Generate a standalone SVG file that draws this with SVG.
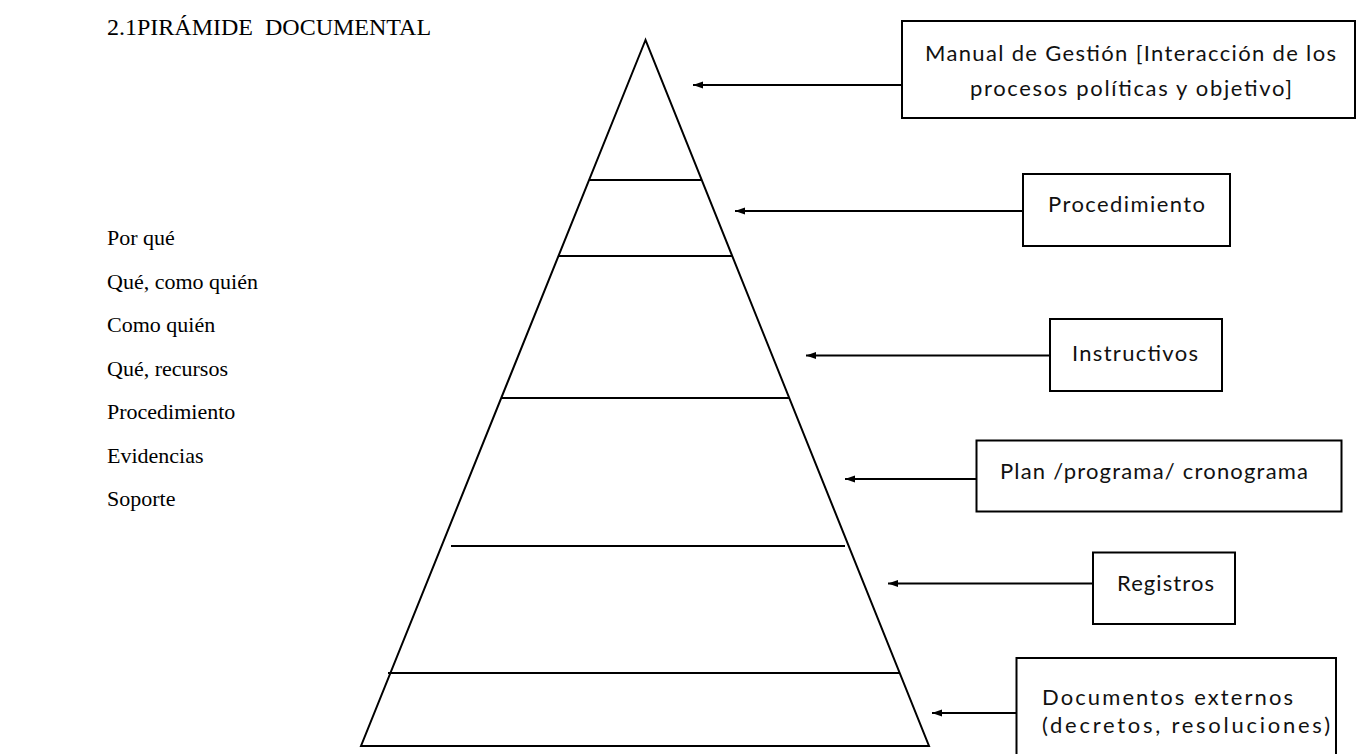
<svg xmlns="http://www.w3.org/2000/svg" width="1361" height="754" viewBox="0 0 1361 754">
<style>
.serif{font-family:"Liberation Serif","Times New Roman",serif;font-size:22px;fill:#000}
.title{font-size:24px}
.box{fill:#fff;stroke:#000;stroke-width:2}
.bt{font-family:Lato,"Open Sans","Liberation Sans",sans-serif;font-size:22px;fill:#111}
.tier{stroke:#000;stroke-width:2;fill:none}
.conn line{stroke:#000;stroke-width:2;marker-end:url(#ah)}
</style>
<defs>
<marker id="ah" markerUnits="userSpaceOnUse" markerWidth="11" markerHeight="8" refX="10" refY="4" orient="auto">
<path d="M0,0.5 L10,4 L0,7.5 z" fill="#000"/>
</marker>
</defs>
<rect width="1361" height="754" fill="#fff"/>

<text class="serif title" x="107" y="35">2.1PIRÁMIDE&#160; DOCUMENTAL</text>

<g id="labels">
<text class="serif" x="107" y="245">Por qué</text>
<text class="serif" x="107" y="288.5">Qué, como quién</text>
<text class="serif" x="107" y="332">Como quién</text>
<text class="serif" x="107" y="375.5">Qué, recursos</text>
<text class="serif" x="107" y="419">Procedimiento</text>
<text class="serif" x="107" y="462.5">Evidencias</text>
<text class="serif" x="107" y="506">Soporte</text>
</g>

<g id="pyramid">
<polygon class="tier" points="645.5,40 361,746 929,746"/>
<line class="tier" x1="589.5" y1="180" x2="701.5" y2="180"/>
<line class="tier" x1="558.5" y1="256" x2="732.5" y2="256"/>
<line class="tier" x1="501" y1="398" x2="789.5" y2="398"/>
<line class="tier" x1="451" y1="546" x2="845" y2="546"/>
<line class="tier" x1="388" y1="673" x2="900" y2="673"/>
</g>

<g id="connectors" class="conn">
<line x1="902" y1="85" x2="693" y2="85"/>
<line x1="1023" y1="211" x2="735" y2="211"/>
<line x1="1050" y1="355.5" x2="806" y2="355.5"/>
<line x1="976.5" y1="479" x2="845" y2="479"/>
<line x1="1093" y1="583.5" x2="888" y2="583.5"/>
<line x1="1016.5" y1="713" x2="932" y2="713"/>
</g>

<g id="node-manual">
<rect class="box" x="902" y="21" width="453" height="97"/>
<text class="bt" x="925" y="61" textLength="411" lengthAdjust="spacing">Manual de Gestión [Interacción de los</text>
<text class="bt" x="970" y="96" textLength="322" lengthAdjust="spacing">procesos políticas y objetivo]</text>
</g>

<g id="node-procedimiento">
<rect class="box" x="1023" y="174" width="207" height="72"/>
<text class="bt" x="1048" y="212" textLength="157" lengthAdjust="spacing">Procedimiento</text>
</g>

<g id="node-instructivos">
<rect class="box" x="1050" y="319" width="172" height="72"/>
<text class="bt" x="1072" y="361" textLength="126" lengthAdjust="spacing">Instructivos</text>
</g>

<g id="node-plan">
<rect class="box" x="976.5" y="440.5" width="365" height="71"/>
<text class="bt" x="1000" y="479" textLength="308" lengthAdjust="spacing">Plan /programa/ cronograma</text>
</g>

<g id="node-registros">
<rect class="box" x="1093" y="552.5" width="142" height="71.5"/>
<text class="bt" x="1117" y="591" textLength="97" lengthAdjust="spacing">Registros</text>
</g>

<g id="node-externos">
<rect class="box" x="1016.5" y="658" width="319.5" height="110"/>
<text class="bt" x="1042" y="705" textLength="251" lengthAdjust="spacing">Documentos externos</text>
<text class="bt" x="1042" y="733" textLength="288" lengthAdjust="spacing">(decretos, resoluciones)</text>
</g>
</svg>
